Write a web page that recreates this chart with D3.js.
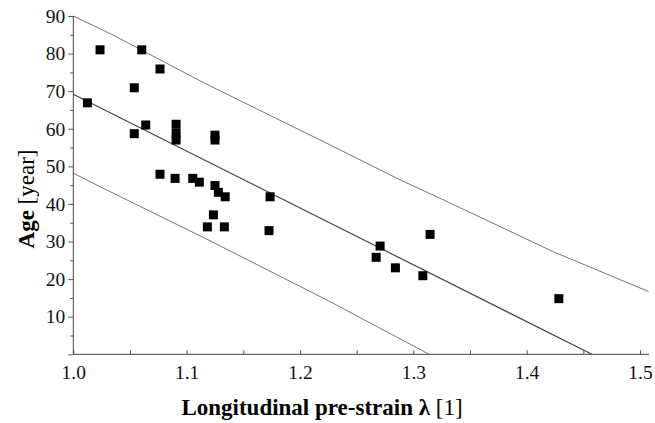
<!DOCTYPE html>
<html>
<head>
<meta charset="utf-8">
<script src="https://cdn.jsdelivr.net/npm/d3@7"></script>
<style>
  body { margin: 0; background: #fff; }
  svg text { font-family: "Liberation Serif", "Times New Roman", serif !important; }
</style>
</head>
<body>
<svg id="chart" width="655" height="423"></svg>
<script>
var serif = "Liberation Serif, Times New Roman, serif";

// measured points: pre-strain λ and age
var lambdaVals = [1.0236, 1.0604, 1.0765, 1.0538, 1.0124, 1.0639, 1.0538, 1.0907, 1.0907, 1.0907,
                  1.125, 1.125, 1.0765, 1.0898, 1.1054, 1.1112, 1.125, 1.128, 1.134, 1.1736,
                  1.1236, 1.1183, 1.1333, 1.1727, 1.2707, 1.2672, 1.2842, 1.3084, 1.3148, 1.4284];
var ageVals    = [81, 81, 75.9, 70.9, 66.9, 61, 58.7, 61.2, 58.8, 57,
                  58.3, 57, 47.9, 46.8, 46.8, 45.8, 44.9, 43.1, 41.9, 41.9,
                  37.1, 33.9, 33.9, 32.9, 28.8, 25.8, 23, 20.9, 31.9, 14.8];

// regression line and bands ([λ, age])
var fitLine   = [[1.0, 69.2], [1.4575, 0]];
var upperBand = [[1.0, 90.0], [1.034, 85.1], [1.116, 72.1], [1.2266, 55.7], [1.2884, 46.4],
                 [1.3236, 41.5], [1.4234, 27.3], [1.5075, 16.7]];
var lowerBand = [[1.0, 48.2], [1.0235, 44.6], [1.118, 30.6], [1.2266, 14.0], [1.314, 0]];

var xTicks = [1.0, 1.05, 1.1, 1.15, 1.2, 1.25, 1.3, 1.35, 1.4, 1.45, 1.5];
var yTicks = d3.range(0, 91, 5);

var svg = d3.select("#chart");

var x = d3.scaleLinear().domain([1, 1.5]).range([73.3, 640]);
var y = d3.scaleLinear().domain([0, 90]).range([354.3, 16]);

var fmtX = d3.format(".1f");

// x axis
var gx = svg.append("g")
    .attr("transform", "translate(0," + y(0) + ")")
    .call(d3.axisBottom(x)
        .tickValues(xTicks)
        .tickSize(-4)
        .tickPadding(11)
        .tickFormat(d => Math.round(d * 100) % 10 === 0 ? fmtX(d) : ""));
gx.select(".domain").remove();
gx.append("line")
    .attr("x1", x(1)).attr("x2", x(1.508))
    .attr("stroke", "#444");
gx.selectAll(".tick line").attr("stroke", "#555");
gx.selectAll("text")
    .attr("fill", "#111")
    .style("font-family", serif)
    .style("font-size", "19.5px");

// y axis
var gy = svg.append("g")
    .attr("transform", "translate(" + x(1) + ",0)")
    .call(d3.axisLeft(y)
        .tickValues(yTicks)
        .tickSize(5)
        .tickPadding(3)
        .tickFormat(d => (d % 10 === 0 && d > 0) ? d : ""));
gy.select(".domain").remove();
gy.append("line")
    .attr("y1", y(0)).attr("y2", y(90))
    .attr("stroke", "#444");
gy.selectAll(".tick line")
    .attr("stroke", "#555")
    .attr("x2", d => d % 10 === 0 ? -5 : -3);
gy.selectAll("text")
    .attr("fill", "#111")
    .style("font-family", serif)
    .style("font-size", "19.5px");

// lines
var line = d3.line().x(d => x(d[0])).y(d => y(d[1]));

svg.append("path").datum(upperBand)
    .attr("d", line).attr("fill", "none")
    .attr("stroke", "#777").attr("stroke-width", 1);
svg.append("path").datum(lowerBand)
    .attr("d", line).attr("fill", "none")
    .attr("stroke", "#777").attr("stroke-width", 1);
svg.append("path").datum(fitLine)
    .attr("d", line).attr("fill", "none")
    .attr("stroke", "#444").attr("stroke-width", 1.2);

// points
var pts = lambdaVals.map((l, i) => ({lam: l, age: ageVals[i]}));
var sq = 9;
svg.append("g").selectAll("rect")
    .data(pts)
    .enter().append("rect")
    .attr("x", d => x(d.lam) - sq / 2)
    .attr("y", d => y(d.age) - sq / 2)
    .attr("width", sq)
    .attr("height", sq)
    .attr("fill", "#000");

// axis titles
var xt = svg.append("text")
    .attr("x", 322)
    .attr("y", 415)
    .attr("text-anchor", "middle")
    .style("font-size", "23px")
    .attr("fill", "#000");
xt.append("tspan").attr("font-weight", "bold").text("Longitudinal pre-strain λ ");
xt.append("tspan").text("[1]");

var yt = svg.append("text")
    .attr("transform", "translate(34,199) rotate(-90)")
    .attr("text-anchor", "middle")
    .style("font-size", "23px")
    .attr("fill", "#000");
yt.append("tspan").attr("font-weight", "bold").text("Age ");
yt.append("tspan").text("[year]");
</script>
</body>
</html>
